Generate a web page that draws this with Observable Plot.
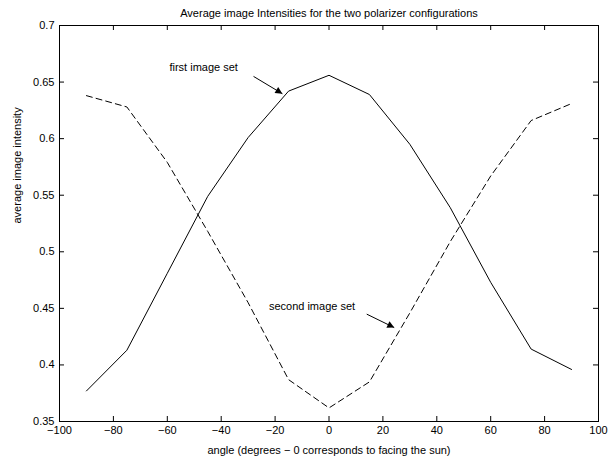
<!DOCTYPE html>
<html><head><meta charset="utf-8">
<script src="https://cdn.jsdelivr.net/npm/d3@7"></script>
<script src="https://cdn.jsdelivr.net/npm/@observablehq/plot@0.6"></script>
<style>body{margin:0;background:#fff} svg{font-family:"Liberation Sans",Arial,Helvetica,sans-serif}</style>
</head><body><div id="chart"></div><script>
const angles = [-90, -75, -60, -45, -30, -15, 0, 15, 30, 45, 60, 75, 90];
const firstSet = [0.377, 0.413, 0.481, 0.549, 0.601, 0.642, 0.656, 0.639, 0.595, 0.539, 0.473, 0.414, 0.396];
const secondSet = [0.638, 0.628, 0.579, 0.518, 0.455, 0.387, 0.362, 0.385, 0.446, 0.509, 0.567, 0.616, 0.631];
const xTicks = [-100, -80, -60, -40, -20, 0, 20, 40, 60, 80, 100];
const yTicks = [0.35, 0.4, 0.45, 0.5, 0.55, 0.6, 0.65, 0.7];
const annoText = ["first image set", "second image set"];
const annoX = [-59.2, -22.3];
const annoY = [0.6625, 0.452];
const arrowX1 = [-28.0, 14.0];
const arrowY1 = [0.655, 0.4449];
const arrowX2 = [-17.3, 24.2];
const arrowY2 = [0.6397, 0.433];
const titleText = "Average image Intensities for the two polarizer configurations";
const xLabel = "angle (degrees \u2212 0 corresponds to facing the sun)";
const yLabel = "average image intensity";

const rows = angles.map((a, i) => ({angle: a, first: firstSet[i], second: secondSet[i]}));
const annos = annoText.map((t, i) => ({text: t, x: annoX[i], y: annoY[i]}));
const arrows = arrowX1.map((_, i) => ({x1: arrowX1[i], y1: arrowY1[i], x2: arrowX2[i], y2: arrowY2[i]}));

const W = 610, H = 459, mT = 25, mB = 38, mL = 59, mR = 12;
const fH = H - mT - mB, fW = W - mL - mR, tl = 5;
const fmt = d => String(+d.toFixed(2)).replace("-", "\u2212");

const chart = Plot.plot({
  width: W, height: H,
  marginTop: mT, marginBottom: mB, marginLeft: mL, marginRight: mR,
  style: {fontFamily: '"Liberation Sans",Arial,sans-serif', fontSize: "11px", color: "black", background: "white", overflow: "visible"},
  x: {domain: [-100, 100], label: null},
  y: {domain: [0.35, 0.7], label: null},
  marks: [
    Plot.axisX(xTicks, {tickSize: 0, tickPadding: 5, tickFormat: fmt, label: null, fontSize: 11}),
    Plot.axisY(yTicks, {tickSize: 0, tickPadding: 5, tickFormat: fmt, label: null, fontSize: 11}),
    Plot.tickX(xTicks, {x: d => d, insetTop: fH - tl, stroke: "black"}),
    Plot.tickX(xTicks, {x: d => d, insetBottom: fH - tl, stroke: "black"}),
    Plot.tickY(yTicks, {y: d => d, insetRight: fW - tl, stroke: "black"}),
    Plot.tickY(yTicks, {y: d => d, insetLeft: fW - tl, stroke: "black"}),
    Plot.frame({stroke: "black", strokeWidth: 1}),
    Plot.line(rows, {x: "angle", y: "first", stroke: "black", strokeWidth: 1}),
    Plot.line(rows, {x: "angle", y: "second", stroke: "black", strokeWidth: 1, strokeDasharray: "6,4"}),
    Plot.link(arrows, {x1: "x1", y1: "y1", x2: "x2", y2: "y2", stroke: "black", strokeWidth: 1}),
    Plot.text(annos, {x: "x", y: "y", text: "text", textAnchor: "start", fill: "black", fontSize: 11}),
    Plot.text([titleText], {frameAnchor: "top", dy: -12, lineAnchor: "middle", fill: "black", fontSize: 11}),
    Plot.text([xLabel], {frameAnchor: "bottom", dy: 29, lineAnchor: "middle", fill: "black", fontSize: 11}),
    Plot.text([yLabel], {frameAnchor: "left", dx: -42, rotate: -90, lineAnchor: "middle", fill: "black", fontSize: 11})
  ]
});

// filled arrowheads like the original annotation arrows
const ns = "http://www.w3.org/2000/svg";
const defs = document.createElementNS(ns, "defs");
const marker = document.createElementNS(ns, "marker");
marker.setAttribute("id", "filled-arrowhead");
marker.setAttribute("viewBox", "0 0 10 10");
marker.setAttribute("refX", "10");
marker.setAttribute("refY", "5");
marker.setAttribute("markerWidth", "10");
marker.setAttribute("markerHeight", "7");
marker.setAttribute("markerUnits", "userSpaceOnUse");
marker.setAttribute("orient", "auto");
const mp = document.createElementNS(ns, "path");
mp.setAttribute("d", "M0,0L10,5L0,10Z");
mp.setAttribute("fill", "black");
marker.appendChild(mp);
defs.appendChild(marker);
chart.insertBefore(defs, chart.firstChild);
chart.querySelectorAll('g[aria-label="link"] path').forEach(p => p.setAttribute("marker-end", "url(#filled-arrowhead)"));

document.getElementById("chart").appendChild(chart);
</script></body></html>
